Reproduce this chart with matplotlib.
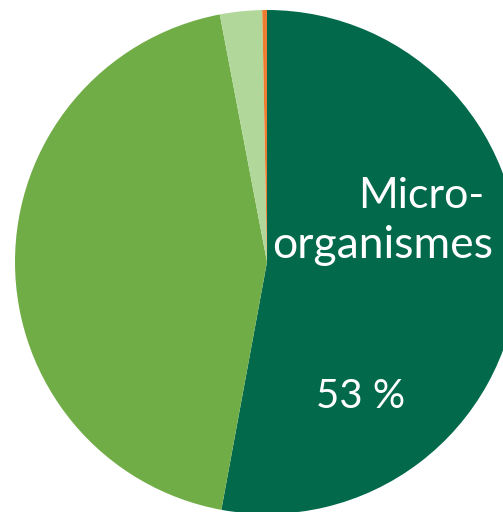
import numpy as np
import matplotlib
matplotlib.use('Agg')
from matplotlib import pyplot as plt

# slices, clockwise from 12 o'clock
labels = ['Micro-organismes', 'Autres 1', 'Autres 2', 'Autres 3']
values = [52.9, 44.1, 2.7, 0.3]
colors = ['#03694B', '#71AD47', '#B1D89A', '#ED7D31']

W, H, DPI = 503, 512, 100
cx, cy, r = 267, 262, 252  # pie centre and radius in pixels

fig = plt.figure(figsize=(W / DPI, H / DPI), dpi=DPI)
ax = fig.add_axes([0, 0, 1, 1])
ax.pie(values, colors=colors, startangle=90, counterclock=False,
       radius=1, center=(0, 0), wedgeprops=dict(linewidth=0))
ax.set_xlim(-cx / r, (W - cx) / r)
ax.set_ylim(-(H - cy) / r, cy / r)
ax.set_aspect('equal')
ax.axis('off')

def px(x, y):
    return (x - cx) / r, (cy - y) / r

font = ['Lato', 'DejaVu Sans']
ax.text(*px(484, 208), 'Micro-', color='white', fontsize=31, family=font,
        ha='right', va='baseline')
ax.text(*px(493, 258), 'organismes', color='white', fontsize=32, family=font,
        ha='right', va='baseline')
ax.text(*px(361, 408), '53 %', color='white', fontsize=29, family=font,
        ha='center', va='baseline')

fig.savefig('out.png', dpi=DPI)
